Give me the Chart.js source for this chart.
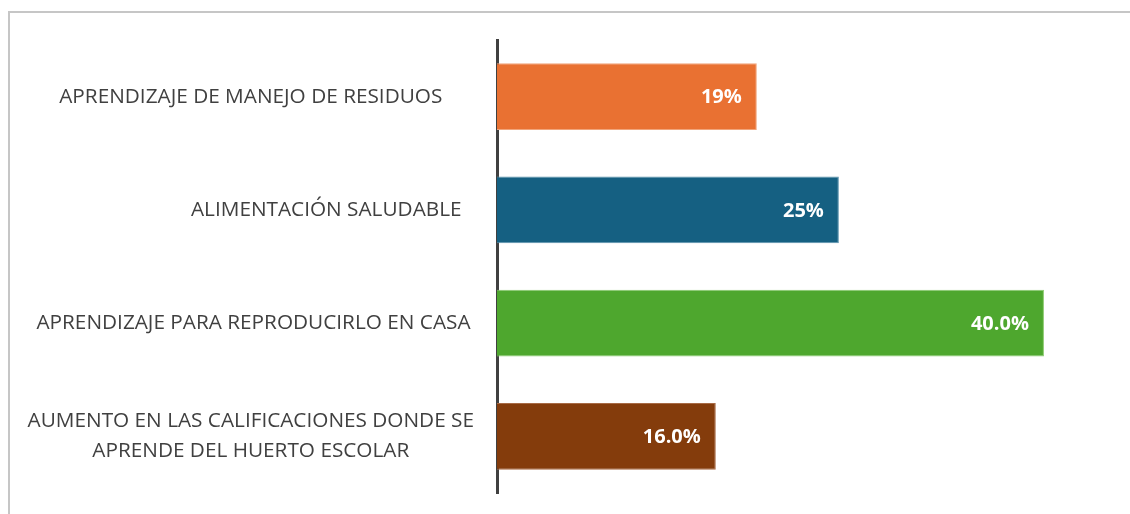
<!DOCTYPE html>
<html>
<head>
<meta charset="utf-8">
<script src="https://cdn.jsdelivr.net/npm/chart.js@4"></script>
<style>
  html, body { margin: 0; padding: 0; background: #fff; overflow: hidden; }
  #wrap { position: relative; width: 1130px; height: 514px; }
  #frame { position: absolute; left: 8px; top: 11px; width: 1200px; height: 600px;
           border-top: 2px solid #c6c6c6; border-left: 2px solid #c6c6c6; pointer-events: none; }
</style>
</head>
<body>
<div id="wrap">
  <canvas id="chart" width="1130" height="514"></canvas>
  <div id="frame"></div>
</div>
<script>
// leading spaces kept as in the source sheet, they push those labels towards the axis
var categories = [
    'APRENDIZAJE DE MANEJO DE RESIDUOS',
    '                            ALIMENTACIÓN SALUDABLE',
    ' APRENDIZAJE PARA REPRODUCIRLO EN CASA',
    ['AUMENTO EN LAS CALIFICACIONES DONDE SE', 'APRENDE DEL HUERTO ESCOLAR']
];
var values = [19, 25, 40, 16];
var decimals = [0, 0, 1, 1];
var barColors = ['#e97132', '#156082', '#4ea72e', '#843c0c'];
var edgeColors = ['#f1a47a', '#5b93ad', '#8ccb70', '#a86a45'];

var valueLabels = {
    id: 'valueLabels',
    afterDatasetsDraw: function (chart) {
        var ctx = chart.ctx;
        var meta = chart.getDatasetMeta(0);
        ctx.save();
        ctx.fillStyle = '#ffffff';
        ctx.font = 'bold 20px "Open Sans"';
        ctx.textAlign = 'right';
        ctx.textBaseline = 'middle';
        meta.data.forEach(function (bar, i) {
            ctx.fillText(values[i].toFixed(decimals[i]) + '%', bar.x - 15, bar.y + 1);
        });
        ctx.restore();
    }
};

window.onload = function () {
    var ctx = document.getElementById('chart').getContext('2d');
    window.myBar = new Chart(ctx, {
        type: 'bar',
        data: {
            labels: categories,
            datasets: [{
                data: values,
                backgroundColor: barColors,
                borderColor: edgeColors,
                borderWidth: 1,
                barPercentage: 0.59,
                categoryPercentage: 1
            }]
        },
        options: {
            indexAxis: 'y',
            responsive: false,
            animation: false,
            layout: { padding: { top: 40, bottom: 21, left: 0, right: 4 } },
            plugins: {
                legend: { display: false },
                tooltip: { enabled: false }
            },
            scales: {
                x: {
                    min: 0,
                    max: 46,
                    display: false
                },
                y: {
                    grid: { display: false, drawTicks: false },
                    border: { display: true, color: '#404040', width: 3 },
                    ticks: {
                        color: '#404040',
                        font: { family: '"Open Sans"', size: 20.75, lineHeight: 1.45 },
                        crossAlign: 'center',
                        padding: 23
                    },
                    afterFit: function (scale) {
                        scale.width = 497;
                        scale.paddingTop = 0;
                        scale.paddingBottom = 0;
                    }
                }
            }
        },
        plugins: [valueLabels]
    });
};
</script>
</body>
</html>
